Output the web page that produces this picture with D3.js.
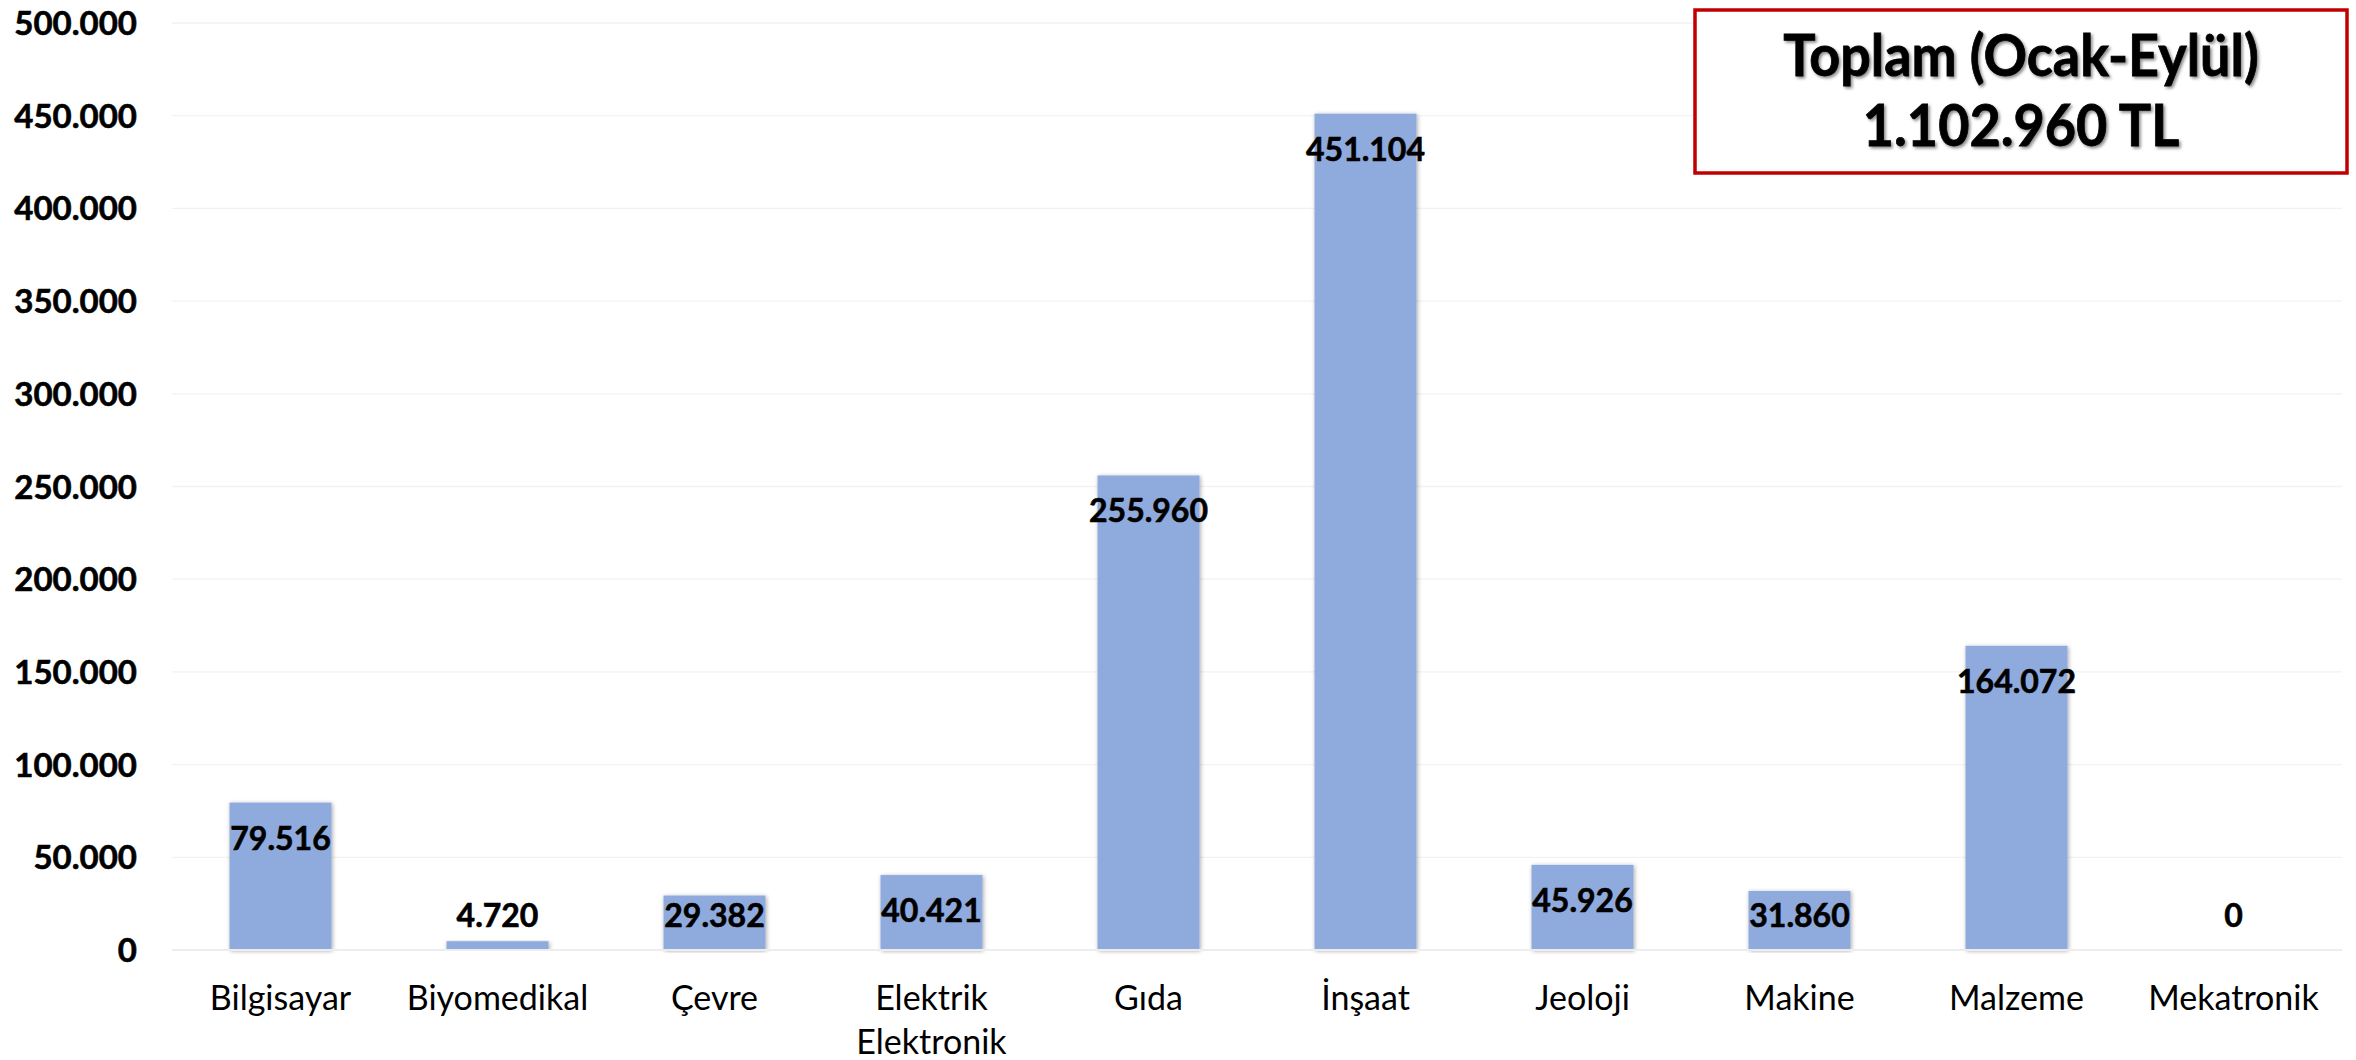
<!DOCTYPE html>
<html>
<head>
<meta charset="utf-8">
<script src="https://cdn.jsdelivr.net/npm/d3@7"></script>
<style>
  html, body { margin: 0; padding: 0; background: #ffffff; }
  svg { display: block; }
</style>
</head>
<body>
<svg id="chart" width="2356" height="1060"></svg>
<script>
// ---- data ----
const categories = ["Bilgisayar", "Biyomedikal", "Çevre", "Elektrik\nElektronik", "Gıda", "İnşaat", "Jeoloji", "Makine", "Malzeme", "Mekatronik"];
const values = [79516, 4720, 29382, 40421, 255960, 451104, 45926, 31860, 164072, 0];
const yTicks = [0, 50000, 100000, 150000, 200000, 250000, 300000, 350000, 400000, 450000, 500000];
const titleLines = ["Toplam (Ocak-Eylül)", "1.102.960 TL"];

// ---- layout ----
const W = 2356, H = 1060;
const plot = { left: 172, right: 2342, top: 23, bottom: 950 };

const locale = d3.formatLocale({ decimal: ",", thousands: ".", grouping: [3], currency: ["", " TL"] });
const fmt = locale.format(",d");

const svg = d3.select("#chart");

const defs = svg.append("defs");
const barShadow = defs.append("filter").attr("id", "barShadow")
  .attr("x", "-20%").attr("y", "-5%").attr("width", "140%").attr("height", "110%");
barShadow.append("feDropShadow").attr("dx", 1).attr("dy", 1).attr("stdDeviation", 2.2)
  .attr("flood-color", "#000").attr("flood-opacity", 0.35);
const textShadow = defs.append("filter").attr("id", "textShadow")
  .attr("x", "-10%").attr("y", "-20%").attr("width", "120%").attr("height", "140%");
textShadow.append("feDropShadow").attr("dx", 2).attr("dy", 2).attr("stdDeviation", 1.5)
  .attr("flood-color", "#000").attr("flood-opacity", 0.45);

const x = d3.scaleBand().domain(categories).range([plot.left, plot.right]).paddingInner(0.53).paddingOuter(0.265);
const y = d3.scaleLinear().domain([0, 500000]).range([plot.bottom, plot.top]);

// gridlines
svg.append("g").selectAll("line").data(yTicks.filter(t => t > 0)).join("line")
  .attr("x1", plot.left).attr("x2", plot.right)
  .attr("y1", d => y(d)).attr("y2", d => y(d))
  .attr("stroke", "#F2F2F2").attr("stroke-width", 1.3);

// y axis labels
const yAxis = d3.axisLeft(y).tickValues(yTicks).tickFormat(fmt).tickSize(0).tickPadding(0);
const gy = svg.append("g").attr("transform", `translate(137,0)`).call(yAxis);
gy.select(".domain").remove();
gy.selectAll("text")
  .attr("font-family", "Lato, 'Open Sans', sans-serif")
  .attr("font-weight", "bold").attr("font-size", 33).attr("fill", "#000")
  .attr("stroke", "#000").attr("stroke-width", 0.6)
  .attr("dy", "0.35em");

// bars
const data = categories.map((c, i) => ({ c, v: values[i] }));
svg.append("g").selectAll("rect").data(data.filter(d => d.v > 0)).join("rect")
  .attr("x", d => x(d.c)).attr("width", x.bandwidth())
  .attr("y", d => y(d.v)).attr("height", d => y(0) - y(d.v))
  .attr("fill", "#8FAADC").attr("filter", "url(#barShadow)");

// baseline
svg.append("line").attr("x1", plot.left).attr("x2", plot.right)
  .attr("y1", y(0)).attr("y2", y(0)).attr("stroke", "#EDEDED").attr("stroke-width", 2);

// value labels
svg.append("g").selectAll("text").data(data).join("text")
  .attr("x", d => x(d.c) + x.bandwidth() / 2)
  .attr("y", d => Math.min(y(d.v) + 47, y(0) - 23))
  .attr("text-anchor", "middle")
  .attr("font-family", "Lato, 'Open Sans', sans-serif")
  .attr("font-weight", "bold").attr("font-size", 32).attr("fill", "#000")
  .attr("stroke", "#000").attr("stroke-width", 0.6)
  .text(d => fmt(d.v));

// x labels
const xAxis = d3.axisBottom(x).tickSize(0).tickFormat("");
const gx = svg.append("g").attr("transform", `translate(0,${plot.bottom})`).call(xAxis);
gx.select(".domain").remove();
gx.selectAll(".tick").each(function(d) {
  const lines = d.split("\n");
  const t = d3.select(this).append("text")
    .attr("text-anchor", "middle")
    .attr("font-family", "Lato, 'Open Sans', sans-serif")
    .attr("font-size", 34).attr("fill", "#000");
  lines.forEach((l, i) => {
    t.append("tspan").attr("x", 0).attr("y", 60 + i * 44).text(l);
  });
});

// title box
const box = { x: 1695, y: 10, w: 652, h: 163 };
svg.append("rect").attr("x", box.x).attr("y", box.y).attr("width", box.w).attr("height", box.h)
  .attr("fill", "#fff").attr("stroke", "#C00000").attr("stroke-width", 3.5);
const cx = box.x + box.w / 2;
svg.append("g").attr("transform", `translate(${cx},0) scale(0.93,1)`)
  .selectAll("text").data(titleLines).join("text")
  .attr("x", 0)
  .attr("y", (d, i) => 76 + i * 70)
  .attr("text-anchor", "middle")
  .attr("font-family", "Lato, 'Open Sans', sans-serif")
  .attr("font-weight", "bold").attr("font-size", 58).attr("fill", "#000")
  .attr("stroke", "#000").attr("stroke-width", 0.8)
  .attr("filter", "url(#textShadow)")
  .text(d => d);
</script>
</body>
</html>
